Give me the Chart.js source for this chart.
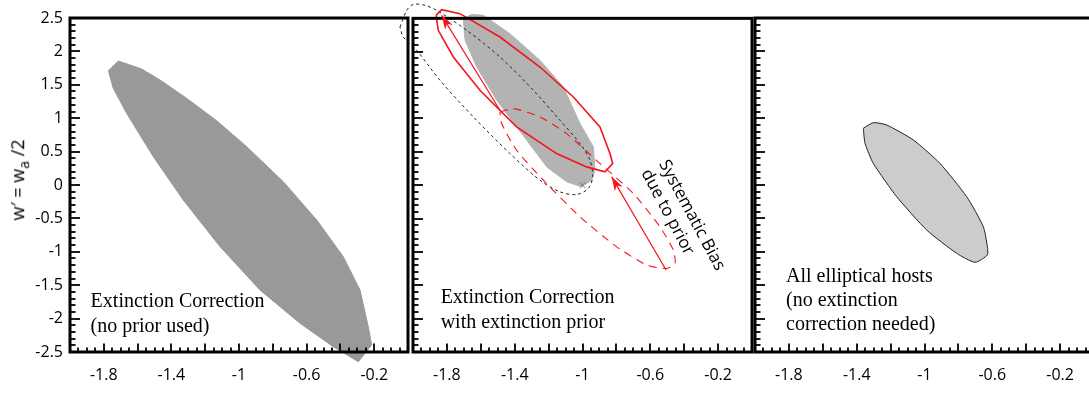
<!DOCTYPE html>
<html>
<head>
<meta charset="utf-8">
<script src="https://cdn.jsdelivr.net/npm/chart.js@4"></script>
<style>
  html, body { margin: 0; padding: 0; background: #fff; }
  body { width: 1089px; height: 393px; overflow: hidden; position: relative; }
  canvas { position: absolute; top: 0; }
  #c1 { left: 0; }
  #c2 { left: 380px; }
  #c3 { left: 740px; }
  #ytitle {
    position: absolute; left: 19px; top: 180px;
    transform: translate(-50%, -50%) rotate(-90deg);
    font: 18px "Open Sans", sans-serif; white-space: nowrap; color: #000;
  }
  #ytitle sub { font-size: 14px; }
</style>
</head>
<body>
<canvas id="c1" width="412" height="393"></canvas>
<canvas id="c2" width="380" height="393"></canvas>
<canvas id="c3" width="360" height="393"></canvas>
<div id="ytitle">w′ = w<sub>a</sub> /2</div>
<script>
// ---------------------------------------------------------------
// Datos (w0 en x, w' en y)
// ---------------------------------------------------------------
const xLabelTicks = [-1.8, -1.4, -1, -0.6, -0.2];
const yLabelTicks = [-2.5, -2, -1.5, -1, -0.5, 0, 0.5, 1, 1.5, 2, 2.5];

// Panel 1: corrección de extinción sin prior
const noPriorContour = [
  [-1.773, 1.711], [-1.714, 1.856], [-1.576, 1.737], [-1.467, 1.572],
  [-1.310, 1.298], [-1.132, 0.963], [-0.954, 0.573], [-0.738, 0.050],
  [-0.540, -0.524], [-0.383, -1.073], [-0.284, -1.572], [-0.235, -2.121],
  [-0.215, -2.395], [-0.294, -2.645], [-0.442, -2.421], [-0.639, -2.070],
  [-0.876, -1.572], [-1.112, -0.924], [-1.330, -0.225], [-1.507, 0.424],
  [-1.665, 1.073], [-1.744, 1.448], [-1.773, 1.711]
];

// Panel 2: con prior de extinción
const priorContour = [
  [-1.703, 2.495], [-1.654, 2.560], [-1.585, 2.545], [-1.428, 2.270],
  [-1.251, 1.871], [-1.113, 1.472], [-1.015, 0.924], [-0.936, 0.573],
  [-0.926, 0.225], [-0.946, 0.075], [-1.005, -0.025], [-1.093, 0.050],
  [-1.211, 0.274], [-1.329, 0.674], [-1.506, 1.273], [-1.624, 1.771],
  [-1.693, 2.171], [-1.703, 2.495]
];
const noPriorDotted = [
  [-2.077, 2.370], [-2.037, 2.620], [-1.998, 2.710], [-1.929, 2.695],
  [-1.860, 2.620], [-1.683, 2.320], [-1.487, 1.921], [-1.290, 1.422],
  [-1.133, 0.973], [-1.015, 0.624], [-0.956, 0.374], [-0.940, 0.124],
  [-0.966, -0.050], [-1.035, -0.140], [-1.133, -0.100], [-1.251, 0.075],
  [-1.428, 0.474], [-1.644, 1.023], [-1.841, 1.572], [-1.978, 2.021],
  [-2.057, 2.220], [-2.077, 2.370]
];
const biasedSolid = [
  [-1.864, 2.545], [-1.831, 2.630], [-1.723, 2.570], [-1.487, 2.220],
  [-1.251, 1.771], [-1.054, 1.322], [-0.897, 0.873], [-0.838, 0.474],
  [-0.822, 0.324], [-0.867, 0.200], [-0.976, 0.274], [-1.153, 0.474],
  [-1.389, 0.873], [-1.605, 1.422], [-1.762, 1.921], [-1.851, 2.320],
  [-1.864, 2.545]
];
const trueDashed = [
  [-1.487, 1.097], [-1.408, 1.148], [-1.251, 1.023], [-1.094, 0.773],
  [-0.897, 0.324], [-0.700, -0.125], [-0.543, -0.624], [-0.464, -0.973],
  [-0.454, -1.173], [-0.503, -1.248], [-0.621, -1.198], [-0.798, -0.924],
  [-1.015, -0.474], [-1.231, 0.075], [-1.389, 0.524], [-1.477, 0.924],
  [-1.487, 1.097]
];
const biasArrowTop = [[-1.487, 1.123], [-1.831, 2.545]];
const biasArrowBottom = [[-0.507, -1.270], [-0.828, 0.125]];
const fiducial = [[-1.0, 0.0]];

// Panel 3: solo galaxias elípticas
const ellipticalContour = [
  [-1.361, 0.849], [-1.302, 0.933], [-1.223, 0.898], [-1.066, 0.674],
  [-0.909, 0.324], [-0.751, -0.175], [-0.653, -0.624], [-0.629, -0.924],
  [-0.629, -1.048], [-0.702, -1.157], [-0.810, -1.023], [-0.987, -0.674],
  [-1.164, -0.175], [-1.302, 0.324], [-1.351, 0.624], [-1.361, 0.849]
];

// Marco visible: el área del gráfico es algo mayor para que el relleno no se recorte
const FRAME_X = [-2, 0];
const FRAME_Y = [-2.5, 2.5];
// posiciones de las marcas (menores cada 0.1 en y, 0.05 en x)
const yMinorTicks = Array.from({ length: 51 }, (_, k) => -2.5 + k * 0.1);
const xMinorTicks = Array.from({ length: 41 }, (_, k) => -2 + k * 0.05);

// ---------------------------------------------------------------
// Plugins: marco con marcas hacia adentro, textos y puntas de flecha
// ---------------------------------------------------------------
const RED = "#f5141c";
const toXY = (pts) => pts.map(([x, y]) => ({ x, y }));

const framePlugin = {
  id: "frame",
  afterDatasetsDraw(chart) {
    const ctx = chart.ctx;
    const xs = chart.scales.x, ys = chart.scales.y;
    const left = xs.getPixelForValue(FRAME_X[0]);
    const right = xs.getPixelForValue(FRAME_X[1]);
    const top = ys.getPixelForValue(FRAME_Y[1]);
    const bottom = ys.getPixelForValue(FRAME_Y[0]);
    ctx.save();
    ctx.strokeStyle = "#000";
    ctx.lineWidth = 1.8;
    ctx.setLineDash([]);
    yMinorTicks.forEach((v, k) => {
      const py = Math.round(ys.getPixelForValue(v));
      const len = k % 5 === 0 ? 10 : 5.5;
      ctx.beginPath();
      ctx.moveTo(left, py);
      ctx.lineTo(left + len, py);
      ctx.stroke();
    });
    xMinorTicks.forEach((v, k) => {
      const px = Math.round(xs.getPixelForValue(v));
      const len = k % 4 === 0 ? 8.5 : 4.5;
      ctx.beginPath();
      ctx.moveTo(px, bottom);
      ctx.lineTo(px, bottom - len);
      ctx.stroke();
    });
    ctx.lineWidth = 3;
    ctx.strokeRect(left, top, right - left, bottom - top);
    ctx.restore();
  },
};

const notesPlugin = {
  id: "notes",
  afterDraw(chart, args, opts) {
    const { ctx, scales } = chart;
    (opts.items || []).forEach((n) => {
      const px = scales.x.getPixelForValue(n.x);
      const py = scales.y.getPixelForValue(n.y);
      ctx.save();
      ctx.translate(px, py);
      if (n.rotate) ctx.rotate((n.rotate * Math.PI) / 180);
      ctx.font = n.font;
      ctx.fillStyle = "#000";
      ctx.textAlign = "left";
      ctx.textBaseline = "middle";
      n.lines.forEach((t, i) => ctx.fillText(t, 0, i * n.lineHeight));
      ctx.restore();
    });
  },
};

const arrowPlugin = {
  id: "arrowHeads",
  afterDatasetsDraw(chart) {
    const { ctx } = chart;
    chart.data.datasets.forEach((ds, i) => {
      if (!ds.arrowHead) return;
      const pts = chart.getDatasetMeta(i).data;
      const p0 = pts[pts.length - 2], p1 = pts[pts.length - 1];
      const ang = Math.atan2(p1.y - p0.y, p1.x - p0.x);
      ctx.save();
      ctx.translate(p1.x, p1.y);
      ctx.rotate(ang);
      ctx.fillStyle = ds.borderColor;
      ctx.beginPath();
      ctx.moveTo(0, 0);
      ctx.lineTo(-14, -4.5);
      ctx.lineTo(-10, 0);
      ctx.lineTo(-14, 4.5);
      ctx.closePath();
      ctx.fill();
      ctx.restore();
    });
  },
};

// ---------------------------------------------------------------
// Construcción de cada panel
// ---------------------------------------------------------------
const lineSet = (pts, extra) =>
  Object.assign(
    {
      data: toXY(pts),
      showLine: true,
      pointRadius: 0,
      borderWidth: 1,
      tension: 0,
      clip: false,
      fill: false,
    },
    extra
  );

// y de -2.7 a 2.7: marco en 18..352 px, área 4.64..365.36 px
const Y_MIN = -2.7, Y_MAX = 2.7;

const makePanel = (id, datasets, cfg) => {
  const ctx = document.getElementById(id).getContext("2d");
  return new Chart(ctx, {
    type: "scatter",
    data: { datasets },
    plugins: [framePlugin, notesPlugin, arrowPlugin],
    options: {
      responsive: false,
      animation: false,
      events: [],
      layout: { padding: cfg.padding },
      scales: {
        x: {
          type: "linear",
          min: FRAME_X[0],
          max: FRAME_X[1],
          grid: { display: false, drawTicks: false },
          border: { display: false },
          afterBuildTicks: (s) => {
            s.ticks = xLabelTicks.map((v) => ({ value: v }));
          },
          afterFit: (s) => {
            s.height = 27.64;
            s.paddingLeft = 0;
            s.paddingRight = 0;
          },
          ticks: {
            padding: 0,
            color: "#000",
            maxRotation: 0,
            autoSkip: false,
            font: { family: "'Open Sans', sans-serif", size: 16 },
            callback: (v) => String(v),
          },
        },
        y: {
          type: "linear",
          min: Y_MIN,
          max: Y_MAX,
          display: cfg.showY,
          grid: { display: false, drawTicks: false },
          border: { display: false },
          afterBuildTicks: (s) => {
            s.ticks = yLabelTicks.map((v) => ({ value: v }));
          },
          afterFit: (s) => {
            if (cfg.showY) s.width = 70;
            s.paddingTop = 0;
            s.paddingBottom = 0;
          },
          ticks: {
            padding: 7,
            color: "#000",
            autoSkip: false,
            font: { family: "'Open Sans', sans-serif", size: 16 },
            callback: (v) => String(v),
          },
        },
      },
      plugins: {
        legend: { display: false },
        tooltip: { enabled: false },
        notes: { items: cfg.notes },
      },
    },
  });
};

const serif = "20px 'Liberation Serif', 'Times New Roman', serif";

// Panel 1
makePanel(
  "c1",
  [
    lineSet(noPriorContour, {
      borderColor: "#999999",
      backgroundColor: "#999999",
      fill: "shape",
    }),
  ],
  {
    padding: { top: 4.64, right: 4, left: 0, bottom: 0 },
    showY: true,
    notes: [
      {
        x: -1.878, y: -1.75, lineHeight: 25, font: serif,
        lines: ["Extinction Correction", "(no prior used)"],
      },
    ],
  }
);

// Panel 2
makePanel(
  "c2",
  [
    lineSet(biasArrowTop, { borderColor: RED, borderWidth: 1.2, arrowHead: true, order: 0 }),
    lineSet(biasArrowBottom, { borderColor: RED, borderWidth: 1.2, arrowHead: true, order: 0 }),
    lineSet(biasedSolid, { borderColor: RED, borderWidth: 1.6, order: 1 }),
    lineSet(trueDashed, { borderColor: RED, borderWidth: 1.1, borderDash: [8, 6], tension: 0.2, order: 2 }),
    lineSet(noPriorDotted, { borderColor: "#222", borderWidth: 1, borderDash: [3, 3], tension: 0.3, order: 3 }),
    {
      data: toXY(fiducial),
      showLine: false,
      pointStyle: "crossRot",
      pointRadius: 4,
      borderColor: "#777",
      borderWidth: 1,
      clip: false,
      order: 3,
    },
    lineSet(priorContour, {
      borderColor: "#b3b3b3",
      backgroundColor: "#b3b3b3",
      fill: "shape",
      order: 9,
    }),
  ],
  {
    padding: { top: 4.64, right: 8, left: 33, bottom: 0 },
    showY: false,
    notes: [
      {
        x: -1.837, y: -1.69, lineHeight: 25, font: serif,
        lines: ["Extinction Correction", "with extinction prior"],
      },
      {
        x: -0.525, y: 0.36, lineHeight: 20, rotate: 62,
        font: "17px 'Open Sans', sans-serif",
        lines: ["Systematic Bias", "due to prior"],
      },
    ],
  }
);

// Panel 3
makePanel(
  "c3",
  [
    lineSet(ellipticalContour, {
      borderColor: "#222",
      backgroundColor: "#cccccc",
      borderWidth: 1,
      tension: 0.2,
      fill: "shape",
    }),
  ],
  {
    padding: { top: 4.64, right: 6, left: 15, bottom: 0 },
    showY: false,
    notes: [
      {
        x: -1.817, y: -1.377, lineHeight: 24, font: serif,
        lines: ["All elliptical hosts", "(no extinction", "correction needed)"],
      },
    ],
  }
);
</script>
</body>
</html>
